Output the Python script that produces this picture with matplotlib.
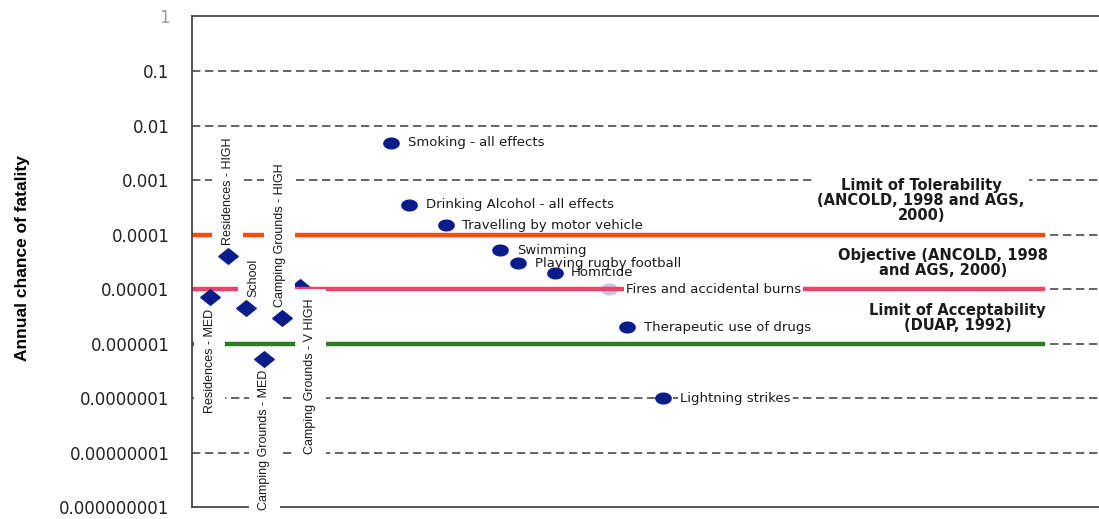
import matplotlib
matplotlib.use('Agg')
import matplotlib.pyplot as plt
import numpy as np
from matplotlib.path import Path

# assessed sites (diamonds)
site_labels = ['Residences - MED', 'Residences - HIGH', 'School',
               'Camping Grounds - MED', 'Camping Grounds - HIGH',
               'Camping Grounds - V HIGH']
site_x = [1, 2, 3, 4, 5, 6]
site_risk = [7.1e-6, 4.1e-5, 4.6e-6, 5.3e-7, 3.0e-6, 1.1e-5]

# everyday hazards (dots)
hazard_labels = ['Smoking - all effects', 'Drinking Alcohol - all effects',
                 'Travelling by motor vehicle', 'Swimming',
                 'Playing rugby football', 'Homicide',
                 'Fires and accidental burns', 'Therapeutic use of drugs',
                 'Lightning strikes']
hazard_x = [11, 12, 14, 17, 18, 20, 23, 24, 26]
hazard_risk = [4.8e-3, 3.5e-4, 1.48e-4, 5.2e-5, 3.0e-5, 2.0e-5, 1e-5, 2.0e-6, 1e-7]

# criteria lines
limit_names = ['Limit of Tolerability\n(ANCOLD, 1998 and AGS,\n2000)',
               'Objective (ANCOLD, 1998\nand AGS, 2000)',
               'Limit of Acceptability\n(DUAP, 1992)']
limit_values = [1e-4, 1e-5, 1e-6]
limit_span = (0, 47)

tick_values = [1e-9, 1e-8, 1e-7, 1e-6, 1e-5, 1e-4, 1e-3, 1e-2, 1e-1, 1]
tick_labels = ['0.000000001', '0.00000001', '0.0000001', '0.000001', '0.00001',
               '0.0001', '0.001', '0.01', '0.1', '1']

limit_colors = ['#ff4a12', '#f0406c', '#2e7d22']
navy = '#0a1c8a'
narrow = ['Liberation Sans', 'DejaVu Sans']

# squashed diamond and ellipse markers
diamond = Path([(-1, 0), (0, 0.8), (1, 0), (0, -0.8), (-1, 0)],
               [Path.MOVETO, Path.LINETO, Path.LINETO, Path.LINETO, Path.CLOSEPOLY])
t = np.linspace(0, 2 * np.pi, 40)
ellipse = Path(np.column_stack([np.cos(t), 0.7 * np.sin(t)]))

fig = plt.figure(figsize=(10.99, 5.19), dpi=100)
ax = fig.add_axes([0.1743, 0.0222, 0.8257, 0.9462])
ax.set_yscale('log')
ax.set_ylim(1e-9, 1)
ax.set_xlim(0, 50)

for v in tick_values[1:-1]:
    ax.axhline(v, color='#4a4a4a', lw=1.2, ls=(0, (5, 2.8)), zorder=1)

for v, c in zip(limit_values, limit_colors):
    ax.hlines(v, *limit_span, color=c, lw=3.2, zorder=2)

ax.set_yticks(tick_values)
ax.set_yticklabels(tick_labels)
ax.minorticks_off()
ax.tick_params(axis='y', length=0, pad=16, labelsize=12, labelcolor='#222222')
ax.get_yticklabels()[-1].set_color('#9a9a9a')
ax.set_xticks([])
for s in ['left', 'top', 'bottom']:
    ax.spines[s].set_color('#3a3a3a')
    ax.spines[s].set_linewidth(1.2)
ax.spines['right'].set_visible(False)

ax.set_ylabel('Annual chance of fatality', fontsize=12.5, fontweight='bold',
              family=narrow)
ax.yaxis.set_label_coords(-0.178, 0.507)

white = dict(boxstyle='square,pad=0.75', fc='white', ec='none')

# site points and their rotated labels
placement = ['below', 'above', 'above', 'below', 'above', 'below']
shift = [0, 0, 5, 0, -2, 7]
for x, r, lab, p, dx in zip(site_x, site_risk, site_labels, placement, shift):
    on_line = abs(np.log10(r) - np.log10(limit_values[1])) < 0.06
    ax.plot(x, r, marker=diamond, ms=14, color=navy, ls='none',
            zorder=1.5 if on_line else 6)
    dy = -8 if p == 'below' else 8
    ax.annotate(lab, (x, r), xytext=(dx, dy), textcoords='offset points',
                rotation=90, ha='center', va='top' if p == 'below' else 'bottom',
                fontsize=9, family=narrow, color='#1a1a1a', bbox=white, zorder=4)

# hazard points and labels; only labels sitting on a gridline get a backing box
for x, r, lab in zip(hazard_x, hazard_risk, hazard_labels):
    on_line = abs(np.log10(r) - np.log10(limit_values[1])) < 0.01
    on_grid = abs(np.log10(r) - round(np.log10(r))) < 0.01
    ax.plot(x, r, marker=ellipse, ms=11, ls='none',
            color='#c9c4d6' if on_line else navy, zorder=1.5 if on_line else 6)
    box = dict(boxstyle='square,pad=0.15', fc='white', ec='none') if on_grid else None
    ax.annotate(lab, (x, r), xytext=(12, 0), textcoords='offset points',
                ha='left', va='center', fontsize=9.5, color='#1a1a1a',
                bbox=box, zorder=4)

# criteria captions
caption_pos = [(40.2, 4.2e-4), (41.4, 3.05e-5), (42.2, 3.0e-6)]
for (x, y), txt in zip(caption_pos, limit_names):
    ax.text(x, y, txt, ha='center', va='center', fontsize=10.5,
            fontweight='bold', color='#1a1a1a', linespacing=1.0,
            bbox=dict(boxstyle='square,pad=0.3', fc='white', ec='none'),
            zorder=4)

fig.savefig('out.png', dpi=100)
